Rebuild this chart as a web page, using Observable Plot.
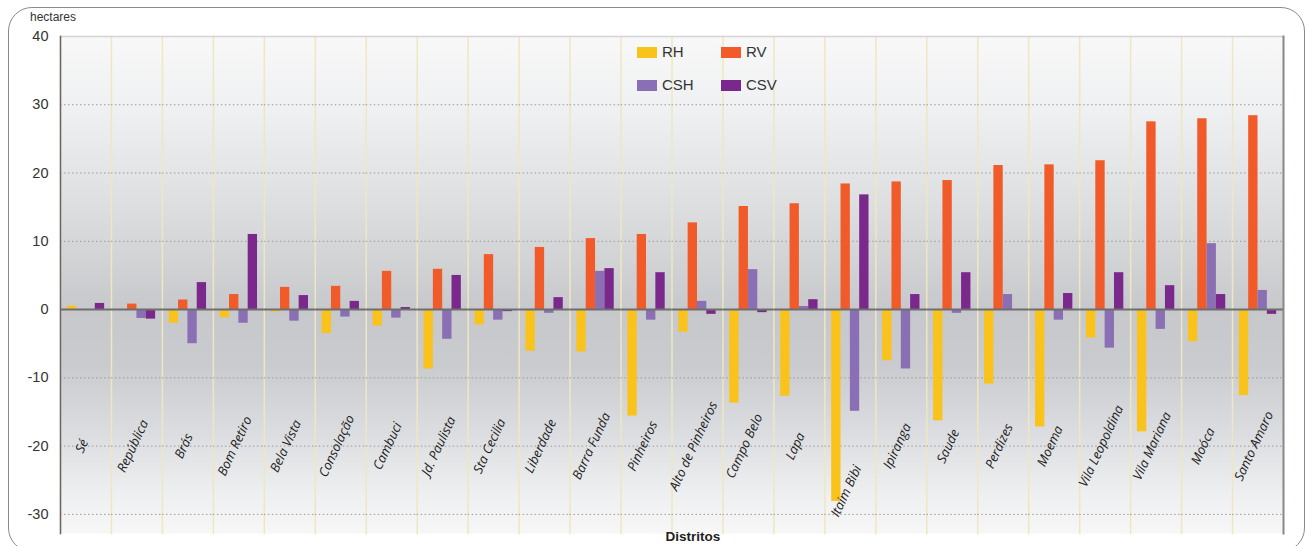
<!DOCTYPE html>
<html>
<head>
<meta charset="utf-8">
<script src="https://cdn.jsdelivr.net/npm/d3@7"></script>
<script src="https://cdn.jsdelivr.net/npm/@observablehq/plot@0.6"></script>
<style>
  html, body { margin: 0; padding: 0; background: #fff; }
  #wrap { position: relative; width: 1309px; height: 546px; overflow: hidden; font-family: "Liberation Sans", Arial, sans-serif; }
  #wrap svg { position: absolute; left: 0; top: 0; }
  .box { position: absolute; left: 8px; top: 7px; width: 1297px; height: 545px; border: 1.5px solid #8a8a8a; border-radius: 24px; box-sizing: border-box; }
  .unit { position: absolute; left: 30px; top: 10px; font-size: 12px; color: #333; }
  .xtitle { position: absolute; left: 0; width: 1386px; top: 529px; text-align: center; font-size: 13.5px; font-weight: bold; color: #222; }
  .legend { position: absolute; left: 637px; top: 43px; font-size: 15px; color: #333; }
  .li { position: absolute; white-space: nowrap; }
  .sw { display: inline-block; width: 20px; height: 11px; vertical-align: middle; margin-right: 5px; position: relative; top: -1px; }
</style>
</head>
<body>
<div id="wrap">
  <div class="box"></div>
  <div class="unit">hectares</div>
  <div class="legend" id="legend"></div>
  <div class="xtitle">Distritos</div>
</div>
<script>
const districts = ["Sé","República","Brás","Bom Retiro","Bela Vista","Consolação","Cambuci","Jd. Paulista","Sta Cecilia","Liberdade","Barra Funda","Pinheiros","Alto de Pinheiros","Campo Belo","Lapa","Itaim Bibi","Ipiranga","Saude","Perdizes","Moema","Vila Leopoldina","Vila Mariana","Moóca","Santo Amaro"];
const seriesNames = ["RH","RV","CSH","CSV"];
const seriesColors = ["#F9C31B","#F15A29","#8A6FB5","#7A288C"];
const RH  = [0.5, 0, -2.0, -1.2, -0.35, -3.5, -2.4, -8.7, -2.25, -6.1, -6.2, -15.6, -3.3, -13.7, -12.7, -28.1, -7.5, -16.3, -10.9, -17.2, -4.15, -17.9, -4.7, -12.6];
const RV  = [0, 0.8, 1.4, 2.2, 3.25, 3.4, 5.6, 5.9, 8.05, 9.1, 10.4, 11.0, 12.7, 15.1, 15.5, 18.4, 18.7, 18.9, 21.1, 21.2, 21.8, 27.5, 27.95, 28.4];
const CSH = [0, -1.3, -5.0, -2.0, -1.7, -1.1, -1.25, -4.35, -1.55, -0.55, 5.6, -1.55, 1.2, 5.85, 0.45, -14.9, -8.7, -0.55, 2.2, -1.55, -5.65, -2.9, 9.65, 2.8];
const CSV = [0.9, -1.4, 3.95, 11.0, 2.05, 1.2, 0.3, 5.0, -0.3, 1.75, 6.0, 5.4, -0.7, -0.45, 1.45, 16.8, 2.2, 5.4, 0, 2.35, 5.4, 3.5, 2.2, -0.7];
const yTicks = [-30, -20, -10, 0, 10, 20, 30, 40];
const gridTicks = [-30, -20, -10, 10, 20, 30];

const valuesBySeries = {RH, RV, CSH, CSV};
const rows = districts.flatMap((d, i) => seriesNames.map(s => ({district: d, series: s, value: valuesBySeries[s][i]})));
const labelRows = districts.map((d, i) => ({district: d, y: Math.min(-20, Math.min(RH[i], RV[i], CSH[i], CSV[i]) + 1.5)}));

const plot = Plot.plot({
  width: 1309,
  height: 546,
  marginLeft: 60,
  marginRight: 26,
  marginTop: 36,
  marginBottom: 13,
  style: {background: "transparent", fontFamily: "'Liberation Sans', Arial, sans-serif", fontSize: "14.5px", color: "#333"},
  fx: {domain: districts, padding: 0, round: false, axis: null, label: null},
  x: {domain: seriesNames, paddingInner: 0, paddingOuter: 0.73, round: false, axis: null},
  y: {domain: [-32.8, 40], ticks: yTicks, tickSize: 0, tickPadding: 12, label: null, tickFormat: d => String(d)},
  color: {domain: seriesNames, range: seriesColors},
  marks: [
    Plot.frame({fill: "url(#bgGrad)", stroke: null}),
    Plot.frame({anchor: "left", stroke: "#efe7bf", strokeWidth: 1.5}),
    Plot.ruleY(gridTicks, {stroke: "#9a9a9a", strokeDasharray: "1.5,2.5", strokeWidth: 1}),
    Plot.ruleY([40], {stroke: "#d4d4d4", strokeWidth: 1.5}),
    Plot.barY(rows, {fx: "district", x: "series", y: "value", fill: "series"}),
    Plot.ruleY([0], {stroke: "#6e6e6e", strokeWidth: 2}),
    Plot.text(labelRows, {fx: "district", y: "y", text: "district", rotate: -65, dx: -4, fontStyle: "italic", fontSize: 13, fontFamily: "'Open Sans', Lato, sans-serif", fill: "#222"}),
    Plot.frame({facet: "super", anchor: "left", stroke: "#666", strokeWidth: 1.5}),
    Plot.frame({facet: "super", anchor: "right", stroke: "#888", strokeWidth: 2})
  ]
});

const ns = "http://www.w3.org/2000/svg";
const defs = document.createElementNS(ns, "defs");
defs.innerHTML = `<linearGradient id="bgGrad" x1="0" y1="0" x2="0" y2="1">
  <stop offset="0" stop-color="#f8f8f9"/>
  <stop offset="0.15" stop-color="#eff0f1"/>
  <stop offset="0.3" stop-color="#e1e2e4"/>
  <stop offset="0.45" stop-color="#d2d3d5"/>
  <stop offset="0.55" stop-color="#c7c8cb"/>
  <stop offset="0.66" stop-color="#cacbce"/>
  <stop offset="0.8" stop-color="#dcdde0"/>
  <stop offset="0.92" stop-color="#eeeff0"/>
  <stop offset="1" stop-color="#f7f7f8"/>
</linearGradient>`;
plot.insertBefore(defs, plot.firstChild);
document.getElementById("wrap").insertBefore(plot, document.querySelector(".unit"));

const legend = document.getElementById("legend");
const pos = [[0, 0], [84, 0], [0, 33], [84, 33]];
seriesNames.forEach((s, i) => {
  const el = document.createElement("div");
  el.className = "li";
  el.style.left = pos[i][0] + "px";
  el.style.top = pos[i][1] + "px";
  el.innerHTML = `<span class="sw" style="background:${seriesColors[i]}"></span>${s}`;
  legend.appendChild(el);
});
</script>
</body>
</html>
